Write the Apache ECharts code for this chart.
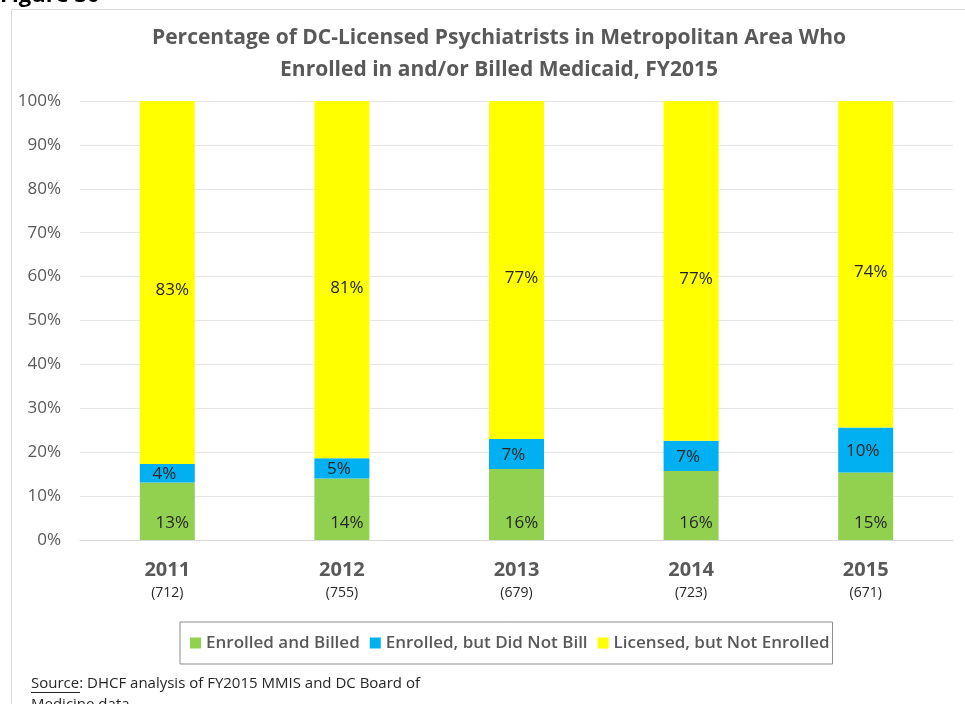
<!DOCTYPE html>
<html>
<head>
<meta charset="utf-8">
<script src="https://cdn.jsdelivr.net/npm/echarts@6/dist/echarts.min.js"></script>
<style>
  html, body { margin: 0; padding: 0; background: #fff; }
  #chart { width: 965px; height: 704px; }
</style>
</head>
<body>
<div id="chart"></div>
<script>
// data (segment heights in %, labels are rounded)
var years = ['2011', '2012', '2013', '2014', '2015']
var counts = ['(712)', '(755)', '(679)', '(723)', '(671)']
var enrolledBilled = [13.1, 14.0, 16.2, 15.7, 15.4]
var enrolledNoBill = [4.2, 4.6, 6.8, 6.9, 10.2]
var notEnrolled = [82.7, 81.4, 77.0, 77.4, 74.4]
var yTicks = [0, 10, 20, 30, 40, 50, 60, 70, 80, 90, 100]

var font = '"Open Sans", sans-serif'
var chart = echarts.init(document.getElementById('chart'))

function pct(p) { return Math.round(p.value) + '%' }

chart.setOption({
  animation: false,
  title: {
    text: 'Percentage of DC-Licensed Psychiatrists in Metropolitan Area Who\nEnrolled in and/or Billed Medicaid, FY2015',
    left: 494,
    textAlign: 'center',
    top: 17,
    textStyle: { fontFamily: font, fontSize: 21, fontWeight: 'bold', color: '#595959', lineHeight: 32 }
  },
  legend: {
    left: 180,
    top: 622,
    padding: [10, 3, 10, 10],
    borderColor: '#8c8c8c',
    borderWidth: 1,
    itemWidth: 11,
    itemHeight: 11,
    itemGap: 10,
    icon: 'rect',
    textStyle: { fontFamily: font, fontSize: 17, fontWeight: 600, color: '#595959', lineHeight: 22 },
    data: ['Enrolled and Billed', 'Enrolled, but Did Not Bill', 'Licensed, but Not Enrolled']
  },
  grid: { left: 80, right: 12, top: 101, bottom: 164 },
  xAxis: {
    type: 'category',
    data: years,
    axisTick: { show: false },
    axisLine: { lineStyle: { color: '#d9d9d9' } },
    axisLabel: {
      margin: 18,
      formatter: function(v, i) { return '{y|' + v + '}\n{n|' + counts[i] + '}' },
      rich: {
        y: { fontFamily: font, fontSize: 20, fontWeight: 'bold', color: '#595959', lineHeight: 25 },
        n: { fontFamily: font, fontSize: 14, color: '#262626', lineHeight: 20 }
      }
    }
  },
  yAxis: {
    type: 'value',
    min: 0,
    max: 100,
    interval: 10,
    axisLine: { show: false },
    axisTick: { show: false },
    splitLine: { lineStyle: { color: '#e6e6e6' } },
    axisLabel: {
      margin: 19,
      fontFamily: font,
      fontSize: 17,
      color: '#595959',
      formatter: function(v) { return yTicks.indexOf(v) >= 0 ? v + '%' : '' }
    }
  },
  series: [{
    name: 'Enrolled and Billed',
    type: 'bar',
    stack: 'all',
    barWidth: 55,
    itemStyle: { color: '#92d050' },
    label: {
      show: true, position: 'insideBottom', distance: 8, offset: [5, 0],
      fontFamily: font, fontSize: 17, color: '#262626', formatter: pct
    },
    data: enrolledBilled
  }, {
    name: 'Enrolled, but Did Not Bill',
    type: 'bar',
    stack: 'all',
    itemStyle: { color: '#00b0f0' },
    label: {
      show: true, position: 'inside', offset: [-3, 1],
      fontFamily: font, fontSize: 17, color: '#262626', formatter: pct
    },
    data: enrolledNoBill
  }, {
    name: 'Licensed, but Not Enrolled',
    type: 'bar',
    stack: 'all',
    itemStyle: { color: '#ffff00' },
    label: {
      show: true, position: 'inside', offset: [5, 8],
      fontFamily: font, fontSize: 17, color: '#262626', formatter: pct
    },
    data: notEnrolled
  }],
  graphic: [{
    type: 'rect',
    shape: { x: 11.5, y: 9.5, width: 1000, height: 800 },
    style: { fill: 'none', stroke: '#d9d9d9', lineWidth: 1 },
    z: -1
  }, {
    type: 'text',
    x: 0,
    y: 7,
    style: { text: 'Figure 30', fontFamily: font, fontSize: 22, fontWeight: 'bold', fill: '#000', verticalAlign: 'bottom' }
  }, {
    type: 'text',
    x: 31,
    y: 673,
    style: {
      text: 'Source: DHCF analysis of FY2015 MMIS and DC Board of\nMedicine data',
      fontFamily: font, fontSize: 15, fill: '#262626', lineHeight: 21
    }
  }, {
    type: 'line',
    shape: { x1: 31, y1: 692.5, x2: 80, y2: 692.5 },
    style: { stroke: '#262626', lineWidth: 1 }
  }]
})
</script>
</body>
</html>
